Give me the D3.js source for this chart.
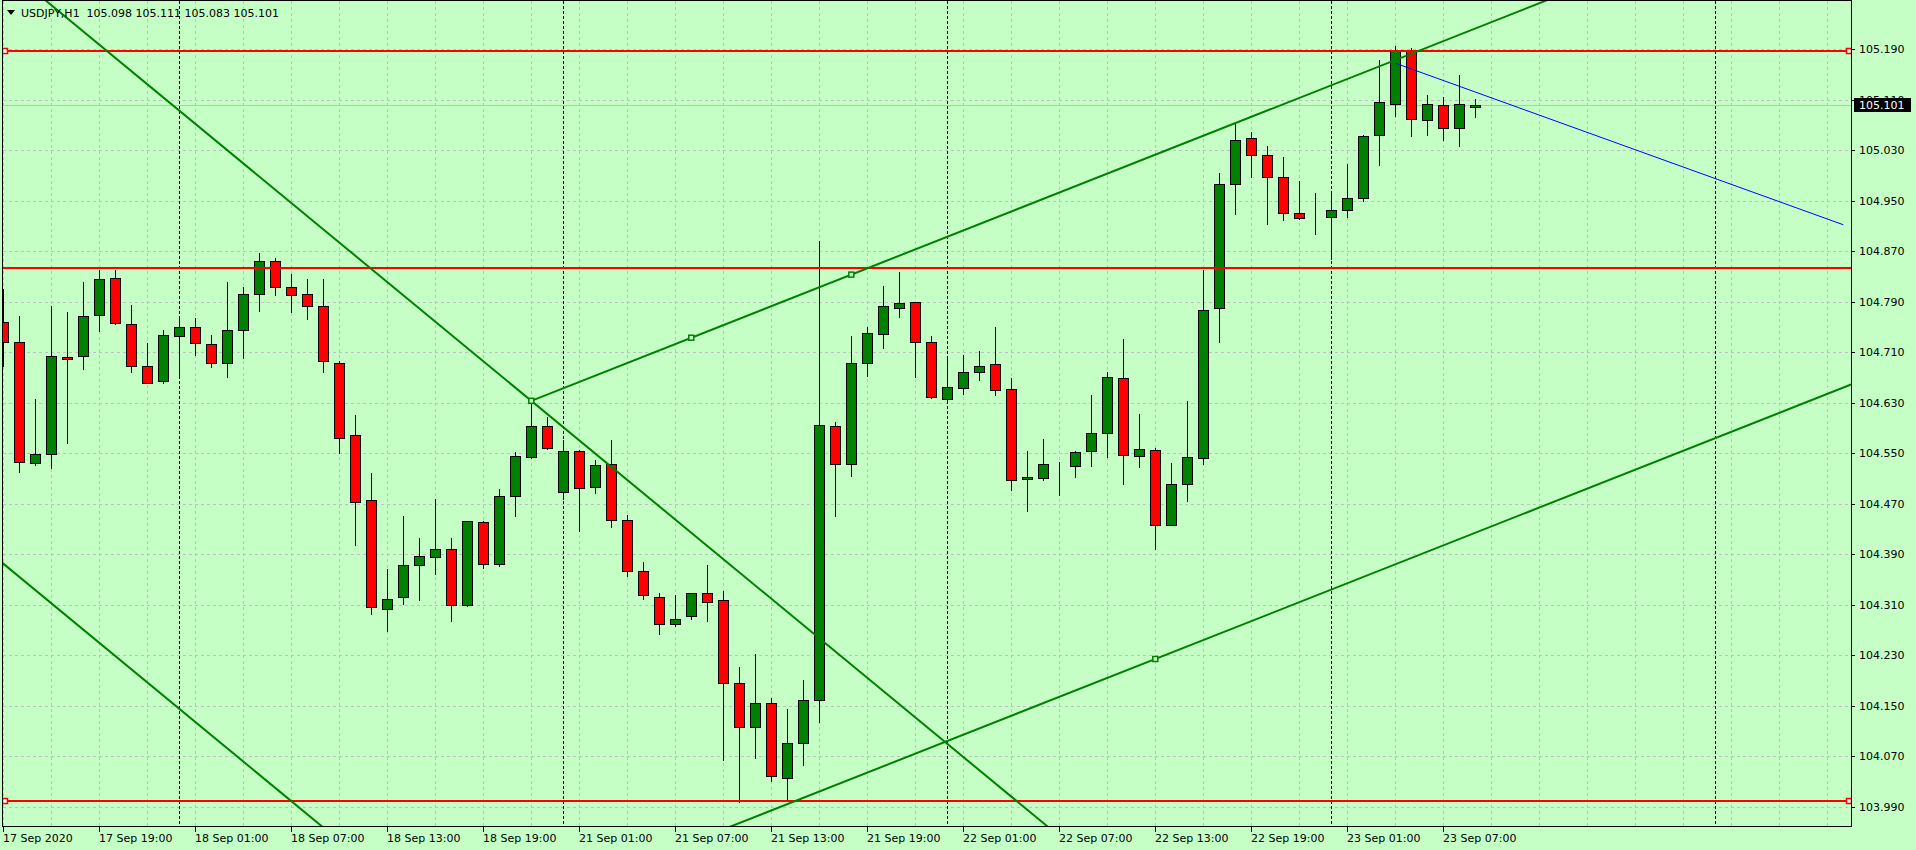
<!DOCTYPE html>
<html>
<head>
<meta charset="utf-8">
<script src="https://cdn.jsdelivr.net/npm/d3@7"></script>
<style>
body { margin: 0; background: #c6ffc6; }
svg { display: block; font-family: "DejaVu Sans", sans-serif; font-size: 11px; }
</style>
</head>
<body>
<div id="chart"></div>
<script>
// USDJPY H1, bars 17 Sep 13:00 .. 23 Sep 09:00 (bar index 0..92)
var barOpen = [
  104.758, 104.726, 104.534, 104.548, 104.702, 104.704, 104.769, 104.827, 104.754, 104.689,
  104.664, 104.735, 104.750, 104.723, 104.693, 104.746, 104.802, 104.854, 104.813, 104.802,
  104.783, 104.693, 104.579, 104.476, 104.304, 104.322, 104.373, 104.385, 104.398, 104.309,
  104.441, 104.374, 104.483, 104.544, 104.593, 104.488, 104.553, 104.496, 104.533, 104.445,
  104.363, 104.323, 104.279, 104.292, 104.328, 104.317, 104.186, 104.117, 104.154, 104.035,
  104.091, 104.159, 104.593, 104.533, 104.693, 104.739, 104.780, 104.789, 104.726, 104.636,
  104.653, 104.678, 104.691, 104.651, 104.509, 104.510, 104.533, 104.529, 104.553, 104.582,
  104.669, 104.545, 104.555, 104.436, 104.502, 104.542, 104.780, 104.976, 105.049, 105.022,
  104.987, 104.930, 104.922, 104.924, 104.935, 104.954, 105.054, 105.104, 105.188, 105.078,
  105.101, 105.066, 105.098
];
var barHigh = [
  104.811, 104.767, 104.636, 104.783, 104.774, 104.821, 104.840, 104.840, 104.785, 104.725,
  104.745, 104.764, 104.764, 104.737, 104.821, 104.813, 104.868, 104.859, 104.834, 104.826,
  104.826, 104.696, 104.610, 104.519, 104.367, 104.451, 104.416, 104.478, 104.416, 104.443,
  104.442, 104.493, 104.552, 104.633, 104.607, 104.571, 104.555, 104.540, 104.571, 104.452,
  104.377, 104.328, 104.325, 104.329, 104.373, 104.331, 104.211, 104.232, 104.162, 104.144,
  104.190, 104.886, 104.599, 104.736, 104.750, 104.815, 104.837, 104.790, 104.735, 104.704,
  104.705, 104.712, 104.750, 104.669, 104.553, 104.572, 104.536, 104.553, 104.642, 104.678,
  104.731, 104.612, 104.558, 104.534, 104.632, 104.841, 104.994, 105.074, 105.059, 105.036,
  105.019, 104.981, 104.962, 104.961, 105.008, 105.054, 105.173, 105.195, 105.192, 105.117,
  105.114, 105.149, 105.111
];
var barLow = [
  104.688, 104.521, 104.531, 104.526, 104.567, 104.684, 104.744, 104.754, 104.679, 104.661,
  104.662, 104.671, 104.705, 104.686, 104.671, 104.701, 104.776, 104.800, 104.774, 104.763,
  104.678, 104.550, 104.404, 104.295, 104.268, 104.311, 104.317, 104.358, 104.284, 104.308,
  104.368, 104.371, 104.450, 104.542, 104.556, 104.477, 104.427, 104.487, 104.433, 104.355,
  104.319, 104.263, 104.276, 104.287, 104.284, 104.064, 103.997, 104.067, 104.030, 103.999,
  104.056, 104.124, 104.450, 104.514, 104.673, 104.716, 104.766, 104.670, 104.638, 104.634,
  104.644, 104.666, 104.643, 104.491, 104.458, 104.507, 104.484, 104.513, 104.529, 104.544,
  104.502, 104.528, 104.399, 104.436, 104.474, 104.533, 104.726, 104.929, 104.987, 104.913,
  104.919, 104.921, 104.898, 104.858, 104.925, 104.949, 105.007, 105.084, 105.052, 105.055,
  105.047, 105.036, 105.083
];
var barClose = [
  104.726, 104.536, 104.548, 104.704, 104.700, 104.767, 104.826, 104.756, 104.688, 104.662,
  104.737, 104.750, 104.724, 104.693, 104.746, 104.802, 104.854, 104.813, 104.800, 104.784,
  104.696, 104.574, 104.472, 104.306, 104.319, 104.373, 104.387, 104.398, 104.309, 104.442,
  104.374, 104.482, 104.545, 104.593, 104.559, 104.553, 104.495, 104.531, 104.444, 104.363,
  104.325, 104.279, 104.287, 104.328, 104.315, 104.186, 104.116, 104.155, 104.038, 104.091,
  104.159, 104.594, 104.533, 104.693, 104.740, 104.784, 104.788, 104.726, 104.639, 104.655,
  104.678, 104.689, 104.650, 104.507, 104.512, 104.533, 104.533, 104.552, 104.582, 104.670,
  104.547, 104.556, 104.436, 104.502, 104.544, 104.777, 104.976, 105.047, 105.022, 104.987,
  104.930, 104.922, 104.922, 104.935, 104.954, 105.052, 105.106, 105.187, 105.079, 105.104,
  105.065, 105.103, 105.101
];

var xTickBars = [0, 6, 12, 18, 24, 30, 36, 42, 48, 54, 60, 66, 72, 78, 84, 90];
var xTickLabels = ["17 Sep 2020", "17 Sep 19:00", "18 Sep 01:00", "18 Sep 07:00", "18 Sep 13:00",
  "18 Sep 19:00", "21 Sep 01:00", "21 Sep 07:00", "21 Sep 13:00", "21 Sep 19:00", "22 Sep 01:00",
  "22 Sep 07:00", "22 Sep 13:00", "22 Sep 19:00", "23 Sep 01:00", "23 Sep 07:00"];
var daySeparators = [11, 35, 59, 83, 107];
var yTicks = [103.990, 104.070, 104.150, 104.230, 104.310, 104.390, 104.470, 104.550,
  104.630, 104.710, 104.790, 104.870, 104.950, 105.030, 105.110, 105.190];

var header = "USDJPY,H1  105.098 105.111 105.083 105.101";
var bid = 105.101;

// horizontal levels (red), ends marked on first and last
var levels = [105.188, 104.843, 103.999];
var levelMarked = [true, false, true];

// trend lines as [bar, price] anchor pairs, plus the bar range they cover
var trendDown = [[33, 104.633], [53, 104.215]];
var trendDownLow = [[0, 104.375], [20, 103.957]];
var channelTop = [[33, 104.633], [53, 104.833]];
var channelLow = [[72, 104.224], [92, 104.424]];
var trendSpans = [[-2, 118], [-2, 118], [33, 118], [-2, 118]];
var blueSeg = [[87, 105.168], [115, 104.912]];
var channelPoints = [[33, 104.633], [43, 104.733], [53, 104.833], [72, 104.224]];

var W = 1916, H = 850;
var pLeft = 2.5, pRight = 1851.5, pTop = 0.5, pBottom = 826.5;

var x = d3.scaleLinear().domain([0, 115.5]).range([3.3, 1851.3]);
var y = d3.scaleLinear().domain([103.9594, 105.2681]).range([826, 0]);

var bg = "#c6ffc6", gridCol = "#c4bcc8";

var svg = d3.select("#chart").append("svg")
    .attr("width", W)
    .attr("height", H)
    .style("background", bg);

svg.append("defs").append("clipPath").attr("id", "plot")
  .append("rect").attr("x", pLeft).attr("y", pTop)
  .attr("width", pRight - pLeft).attr("height", pBottom - pTop);

var plot = svg.append("g").attr("clip-path", "url(#plot)");

function px(v) { return Math.round(v) + 0.5; }

// grid
plot.append("g").attr("shape-rendering", "crispEdges")
  .selectAll("line").data(yTicks).enter().append("line")
    .attr("x1", pLeft).attr("x2", pRight)
    .attr("y1", function (d) { return px(y(d)); })
    .attr("y2", function (d) { return px(y(d)); })
    .attr("stroke", gridCol).attr("stroke-dasharray", "3,3");

plot.append("g").attr("shape-rendering", "crispEdges")
  .selectAll("line").data(d3.range(0, 116, 3)).enter().append("line")
    .attr("x1", function (d) { return px(x(d)); })
    .attr("x2", function (d) { return px(x(d)); })
    .attr("y1", pTop).attr("y2", pBottom)
    .attr("stroke", gridCol).attr("stroke-dasharray", "3,3");

// period separators
plot.append("g").attr("shape-rendering", "crispEdges")
  .selectAll("line").data(daySeparators).enter().append("line")
    .attr("x1", function (d) { return px(x(d)); })
    .attr("x2", function (d) { return px(x(d)); })
    .attr("y1", pTop).attr("y2", pBottom)
    .attr("stroke", "#000").attr("stroke-dasharray", "3,2");

// bid line
plot.append("line")
    .attr("shape-rendering", "crispEdges")
    .attr("x1", pLeft).attr("x2", pRight)
    .attr("y1", px(y(bid))).attr("y2", px(y(bid)))
    .attr("stroke", "#c0c0c0");

// candles
var bars = plot.append("g").attr("shape-rendering", "crispEdges")
  .selectAll("g").data(barOpen).enter().append("g");

bars.append("line")
    .attr("x1", function (d, i) { return px(x(i)); })
    .attr("x2", function (d, i) { return px(x(i)); })
    .attr("y1", function (d, i) { return Math.round(y(barHigh[i])); })
    .attr("y2", function (d, i) { return Math.round(y(barLow[i])) + 1; })
    .attr("stroke", "#000");

bars.append("rect")
    .attr("x", function (d, i) { return px(x(i)) - 5; })
    .attr("width", 10)
    .attr("y", function (d, i) { return px(y(Math.max(barOpen[i], barClose[i]))); })
    .attr("height", function (d, i) {
      return Math.round(y(Math.min(barOpen[i], barClose[i]))) - Math.round(y(Math.max(barOpen[i], barClose[i])));
    })
    .attr("fill", function (d, i) { return barClose[i] > barOpen[i] ? "#008000" : "#ff0000"; })
    .attr("stroke", "#000");

// levels
plot.append("g").selectAll("line").data(levels).enter().append("line")
    .attr("x1", pLeft).attr("x2", pRight)
    .attr("y1", function (d) { return Math.round(y(d)); })
    .attr("y2", function (d) { return Math.round(y(d)); })
    .attr("stroke", "#ff0000").attr("stroke-width", 2);

levels.forEach(function (d, i) {
  if (!levelMarked[i]) return;
  [5, 1849].forEach(function (cx) {
    plot.append("rect")
      .attr("x", cx - 2.5).attr("y", Math.round(y(d)) - 2.5)
      .attr("width", 5).attr("height", 5)
      .attr("fill", "#fff").attr("stroke", "#ff0000").attr("stroke-width", 1.5);
  });
});

// trend lines, extended over their bar span
function extend(pts, k0, k1) {
  var s = (pts[1][1] - pts[0][1]) / (pts[1][0] - pts[0][0]);
  return [[k0, pts[0][1] + (k0 - pts[0][0]) * s], [k1, pts[0][1] + (k1 - pts[0][0]) * s]];
}
var line = d3.line()
    .x(function (d) { return x(d[0]); })
    .y(function (d) { return y(d[1]); });

[trendDown, trendDownLow, channelTop, channelLow].forEach(function (pts, i) {
  plot.append("path")
    .attr("d", line(extend(pts, trendSpans[i][0], trendSpans[i][1])))
    .attr("fill", "none").attr("stroke", "#008000").attr("stroke-width", 2);
});

plot.append("path")
    .attr("d", line(blueSeg))
    .attr("fill", "none").attr("stroke", "#0000ff").attr("stroke-width", 1);

plot.append("g").selectAll("rect").data(channelPoints).enter().append("rect")
    .attr("x", function (d) { return x(d[0]) - 2.5; })
    .attr("y", function (d) { return y(d[1]) - 2.5; })
    .attr("width", 5).attr("height", 5)
    .attr("fill", bg).attr("stroke", "#008000").attr("stroke-width", 1.5);

// frame
svg.append("rect")
    .attr("shape-rendering", "crispEdges")
    .attr("x", pLeft).attr("y", pTop)
    .attr("width", pRight - pLeft).attr("height", pBottom - pTop)
    .attr("fill", "none").attr("stroke", "#000");

// price axis
svg.append("g").attr("shape-rendering", "crispEdges")
  .selectAll("line").data(yTicks).enter().append("line")
    .attr("x1", pRight).attr("x2", pRight + 3)
    .attr("y1", function (d) { return px(y(d)); })
    .attr("y2", function (d) { return px(y(d)); })
    .attr("stroke", "#000");
svg.append("g").selectAll("text").data(yTicks).enter().append("text")
    .attr("x", 1859)
    .attr("y", function (d) { return y(d) + 4; })
    .attr("fill", "#000")
    .text(function (d) { return d.toFixed(3); });

svg.append("rect")
    .attr("x", 1854).attr("y", Math.round(y(bid)) - 7)
    .attr("width", 57).attr("height", 14)
    .attr("fill", "#000");
svg.append("text")
    .attr("x", 1859).attr("y", y(bid) + 4)
    .attr("fill", "#fff")
    .text(bid.toFixed(3));

// time axis
svg.append("g").attr("shape-rendering", "crispEdges")
  .selectAll("line").data(xTickBars).enter().append("line")
    .attr("x1", function (d) { return px(x(d)); })
    .attr("x2", function (d) { return px(x(d)); })
    .attr("y1", pBottom).attr("y2", pBottom + 5)
    .attr("stroke", "#000");
svg.append("g").selectAll("text").data(xTickBars).enter().append("text")
    .attr("x", function (d) { return Math.round(x(d)); })
    .attr("y", 842)
    .attr("fill", "#000")
    .text(function (d, i) { return xTickLabels[i]; });

// header
svg.append("path").attr("d", "M7,10L15,10L11,15Z").attr("fill", "#000");
svg.append("text")
    .attr("x", 21).attr("y", 17)
    .attr("fill", "#000")
    .style("white-space", "pre")
    .text(header);
</script>
</body>
</html>
